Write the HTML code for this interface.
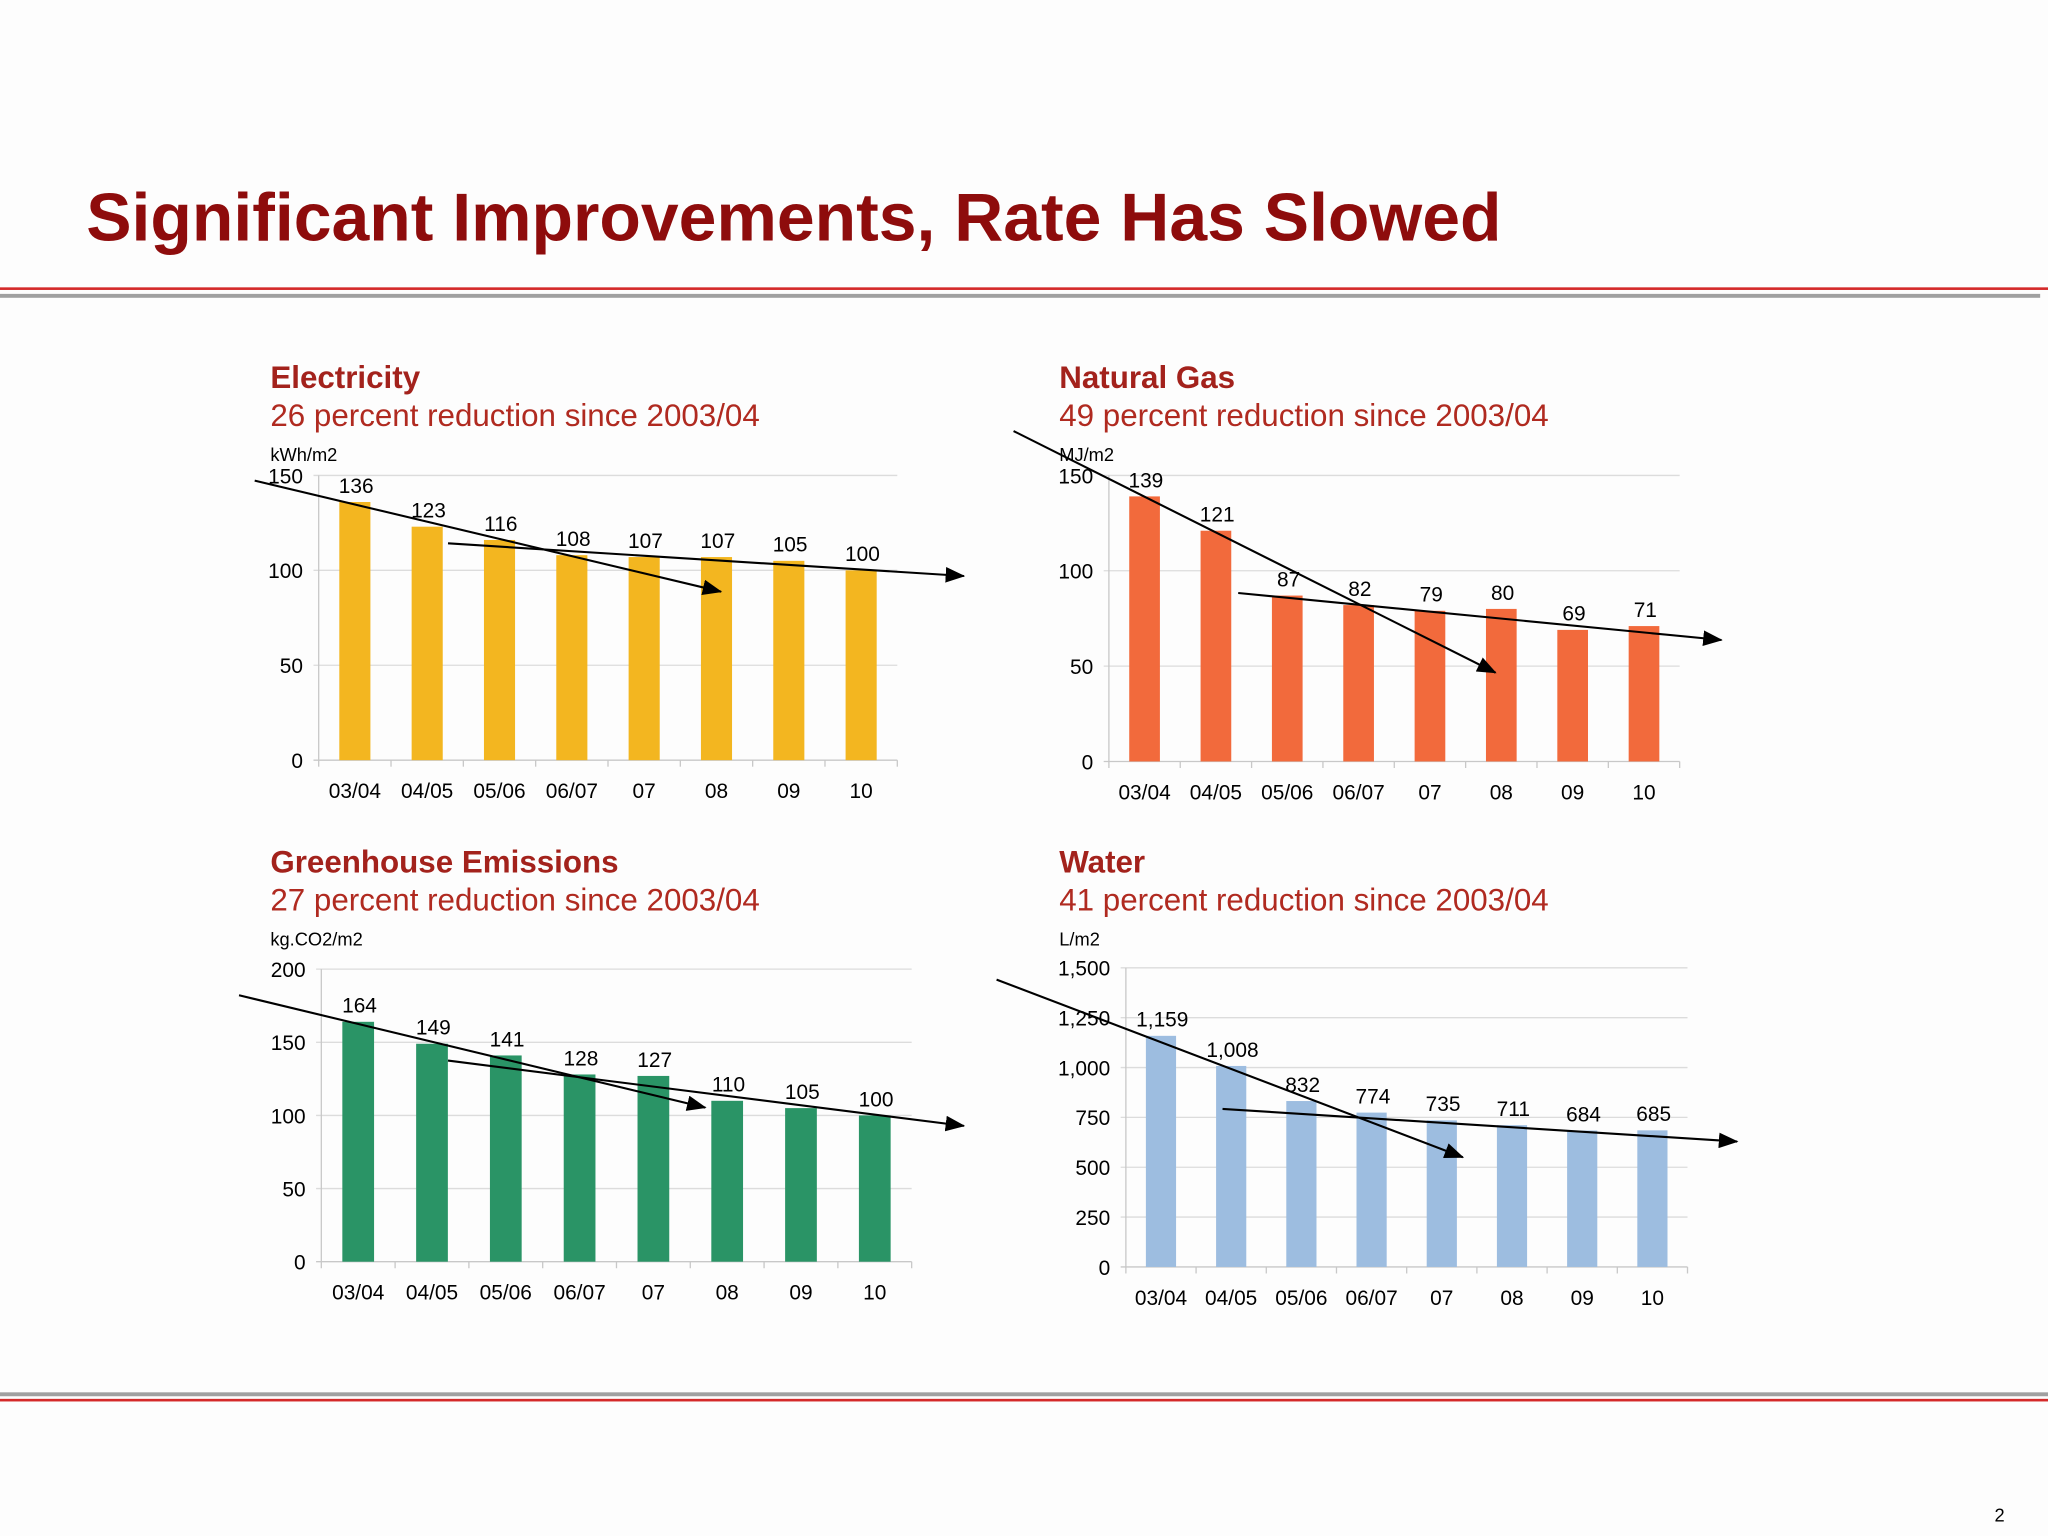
<!DOCTYPE html>
<html><head><meta charset="utf-8">
<style>
html,body{margin:0;padding:0;background:#fdfdfd;}
#wrap{position:relative;width:1568px;height:1176px;transform:scale(1.306122);transform-origin:0 0;font-family:"Liberation Sans",sans-serif;}
.t{position:absolute;white-space:nowrap;}
</style></head><body>
<div id="wrap">
<div class="t" style="left:66px;top:137px;font-size:52px;font-weight:bold;color:#8e0c0c;">Significant Improvements, Rate Has Slowed</div>
<div style="position:absolute;left:0;top:220px;width:1568px;height:2px;background:#d42a2a;"></div>
<div style="position:absolute;left:0;top:225px;width:1562px;height:3px;background:#a0a0a0;"></div>
<div style="position:absolute;left:0;top:1066px;width:1568px;height:3px;background:#a0a0a0;"></div>
<div style="position:absolute;left:0;top:1071px;width:1568px;height:2px;background:#d42a2a;"></div>
<div class="t" style="left:1527px;top:1152px;font-size:14px;color:#000;">2</div>
<svg id="svg" width="1568" height="1176" style="position:absolute;left:0;top:0;">
<defs><marker id="ah" markerWidth="15" markerHeight="12" refX="14" refY="6" orient="auto" markerUnits="userSpaceOnUse"><path d="M0,0 L15,6 L0,12 Z" fill="#000"/></marker></defs>
</svg>
</div>
<script>
const categories=["03/04","04/05","05/06","06/07","07","08","09","10"];
const elecValues=[136,123,116,108,107,107,105,100];
const gasValues=[139,121,87,82,79,80,69,71];
const ghgValues=[164,149,141,128,127,110,105,100];
const waterValues=[1159,1008,832,774,735,711,684,685];
const elecTicks=[0,50,100,150];
const gasTicks=[0,50,100,150];
const ghgTicks=[0,50,100,150,200];
const waterTicks=[0,250,500,750,1000,1250,1500];

const svg=document.getElementById('svg');
const NS='http://www.w3.org/2000/svg';
function mk(tag,attrs){const e=document.createElementNS(NS,tag);for(const k in attrs)e.setAttribute(k,attrs[k]);svg.appendChild(e);return e;}
function fmt(v){return v.toLocaleString('en-US');}
function txt(x,y,s,size,anchor,fill,weight){const t=mk('text',{x:x,y:y,'font-size':size,'text-anchor':anchor,fill:fill,'font-family':'Liberation Sans, sans-serif','font-weight':weight||'normal'});t.textContent=s;return t;}

function chart(cfg){
  const {name,title,sub,unit,tx,ty,x0,x1,yb,yt,vals,ticks,color,arrows}=cfg;
  const tmax=ticks[ticks.length-1];
  const ys=v=>yb-(v/tmax)*(yb-yt);
  const band=(x1-x0)/categories.length;
  const xs=i=>x0+band*(i+0.5);
  let e=txt(tx,ty,title,24,'start','#a3221c','bold');
  
  
  e=txt(tx,ty+29,sub,24,'start','#b02a20');
  
  
  e=txt(tx,ty+56,unit,14,'start','#000');
  
  
  ticks.forEach(t=>{
    const y=ys(t);
    let g=mk('line',{x1:x0-4,x2:x1,y1:y,y2:y,stroke:t===0?'#c8c8c8':'#dcdcdc','stroke-width':1});
    
    
    let l=txt(x0-12,y+6,fmt(t),16,'end','#000');
    
    
  });
  let ax=mk('line',{x1:x0,x2:x0,y1:yt,y2:yb,stroke:'#c8c8c8','stroke-width':1});
  
  
  for(let i=0;i<=categories.length;i++){
    let tk=mk('line',{x1:x0+band*i,x2:x0+band*i,y1:yb,y2:yb+5,stroke:'#c8c8c8'});
    
    
  }
  const bw=band*0.43;
  vals.forEach((v,i)=>{
    let b=mk('rect',{x:xs(i)-bw/2,y:ys(v),width:bw,height:yb-ys(v),fill:color});
    
    
    let l=txt(xs(i)+1,ys(v)-7,fmt(v),16,'middle','#000');
    
    
    let c=txt(xs(i),yb+29,categories[i],16,'middle','#000');
    
    
  });
  arrows.forEach((a,k)=>{
    let l=mk('line',{x1:a[0],y1:a[1],x2:a[2],y2:a[3],stroke:'#000','stroke-width':1.6,'marker-end':'url(#ah)'});
    
    
  });
}
chart({name:'electricity',title:'Electricity',sub:'26 percent reduction since 2003/04',unit:'kWh/m2',tx:207,ty:297,x0:244,x1:687,yb:582,yt:364,vals:elecValues,ticks:elecTicks,color:'#f3b620',
  arrows:[[195,368,552,453],[343,416,738,441]]});
chart({name:'natural-gas',title:'Natural Gas',sub:'49 percent reduction since 2003/04',unit:'MJ/m2',tx:811,ty:297,x0:849,x1:1286,yb:583,yt:364,vals:gasValues,ticks:gasTicks,color:'#f26a3c',
  arrows:[[776,330,1145,515],[948,454,1318,490]]});
chart({name:'greenhouse',title:'Greenhouse Emissions',sub:'27 percent reduction since 2003/04',unit:'kg.CO2/m2',tx:207,ty:668,x0:246,x1:698,yb:966,yt:742,vals:ghgValues,ticks:ghgTicks,color:'#2a9466',
  arrows:[[183,762,540,848],[343,812,738,862]]});
chart({name:'water',title:'Water',sub:'41 percent reduction since 2003/04',unit:'L/m2',tx:811,ty:668,x0:862,x1:1292,yb:970,yt:741,vals:waterValues,ticks:waterTicks,color:'#9dbde0',
  arrows:[[763,750,1120,886],[936,849,1330,874]]});
</script>
</body></html>
